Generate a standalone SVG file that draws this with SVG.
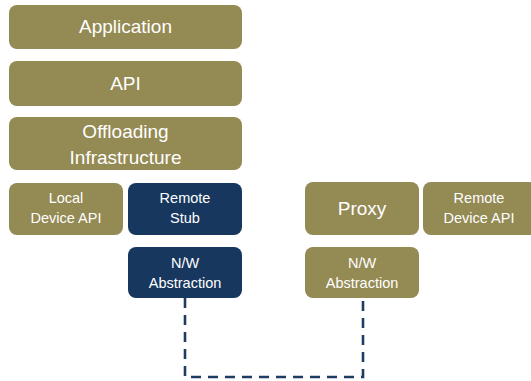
<svg xmlns="http://www.w3.org/2000/svg" width="531" height="381" viewBox="0 0 531 381">
  <style>
    .olive { fill: #948a54; }
    .navy { fill: #17375e; }
    text { fill: #ffffff; font-family: "Liberation Sans", Arial, sans-serif; text-anchor: middle; }
    .lg { font-size: 19px; }
    .sm { font-size: 14.5px; }
    .link { fill: none; stroke: #1f3d63; stroke-width: 2.6; stroke-dasharray: 10 7; }
  </style>
  <rect width="531" height="381" fill="#ffffff"/>

  <!-- local stack -->
  <g id="application">
    <rect class="olive" x="9" y="5" width="233" height="44" rx="8"/>
    <text class="lg" x="125.5" y="33">Application</text>
  </g>
  <g id="api">
    <rect class="olive" x="9" y="61" width="233" height="45" rx="8"/>
    <text class="lg" x="125.5" y="90">API</text>
  </g>
  <g id="offloading">
    <rect class="olive" x="9" y="117" width="233" height="53" rx="8"/>
    <text class="lg" x="125.5" y="138">Offloading</text>
    <text class="lg" x="125.5" y="164">Infrastructure</text>
  </g>
  <g id="local-device-api">
    <rect class="olive" x="9" y="183" width="114" height="52" rx="8"/>
    <text class="sm" x="66" y="203">Local</text>
    <text class="sm" x="66" y="223">Device API</text>
  </g>
  <g id="remote-stub">
    <rect class="navy" x="128" y="183" width="114" height="52" rx="8"/>
    <text class="sm" x="185" y="203">Remote</text>
    <text class="sm" x="185" y="223">Stub</text>
  </g>
  <g id="nw-local">
    <rect class="navy" x="128" y="247" width="114" height="51" rx="8"/>
    <text class="sm" x="185" y="268">N/W</text>
    <text class="sm" x="185" y="288">Abstraction</text>
  </g>

  <!-- remote side -->
  <g id="proxy">
    <rect class="olive" x="305" y="182" width="114" height="53" rx="8"/>
    <text class="lg" x="362" y="215">Proxy</text>
  </g>
  <g id="remote-device-api">
    <rect class="olive" x="423" y="182" width="114" height="53" rx="8"/>
    <text class="sm" x="479" y="203">Remote</text>
    <text class="sm" x="479" y="223">Device API</text>
  </g>
  <g id="nw-remote">
    <rect class="olive" x="305" y="247" width="114" height="51" rx="8"/>
    <text class="sm" x="362" y="268">N/W</text>
    <text class="sm" x="362" y="288">Abstraction</text>
  </g>

  <!-- network link between the two abstraction layers -->
  <g id="connectors">
    <path class="link" d="M185 298 V377 H363 V298"/>
  </g>
</svg>
